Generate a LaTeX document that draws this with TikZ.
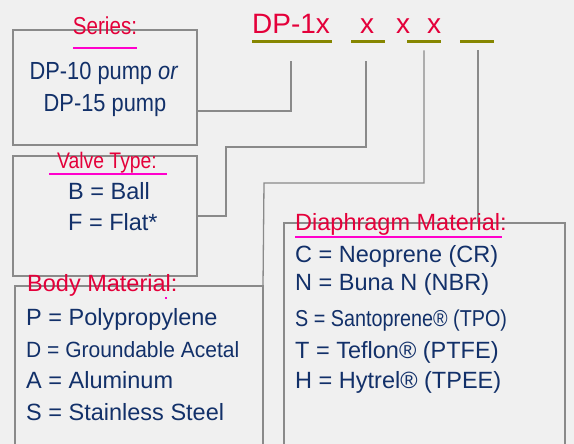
\documentclass[tikz,border=0pt]{standalone}
\usepackage{fontspec}
\setmainfont{Liberation Sans}
\definecolor{bg}{RGB}{240,240,240}
\definecolor{linegray}{RGB}{138,138,138}
\definecolor{navy}{RGB}{18,48,105}
\definecolor{hdred}{RGB}{228,0,58}
\definecolor{mag}{RGB}{255,0,204}
\definecolor{olive}{RGB}{134,134,0}
\begin{document}
\begin{tikzpicture}[x=1pt,y=-1pt,
  box/.style={draw=linegray, line width=1.3pt, rectangle, inner sep=0, outer sep=0},
  conn/.style={draw=linegray, line width=1.3pt},
  seg/.style={fill=olive, rectangle, inner sep=0, outer sep=0, minimum height=3.3pt},
  uline/.style={fill=mag, rectangle, inner sep=0, outer sep=0, minimum height=2.2pt},
  head/.style={text=hdred, inner sep=0, font=\fontsize{23.5}{28}\selectfont},
  code/.style={text=hdred, inner sep=0, font=\fontsize{28}{32}\selectfont},
  txt/.style={text=navy, inner sep=0, font=\fontsize{23.5}{28}\selectfont},
  small/.style={text=navy, inner sep=0, font=\fontsize{21}{26}\selectfont}
]
\fill[bg] (0,0) rectangle (574,444);
\useasboundingbox (0,0) rectangle (574,444);
\clip (0,0) rectangle (574,444);

% boxes
\node[box, minimum width=184pt, minimum height=115pt] (series) at (105,87.5) {};
\node[box, minimum width=184pt, minimum height=120pt] (valve) at (105,216) {};
\node[box, minimum width=248pt, minimum height=184pt] (body) at (139,378) {};
\node[box, minimum width=281pt, minimum height=247pt] (diaph) at (424.5,346.5) {};

% code underlines
\node[seg, minimum width=80pt] (s1) at (292,41.7) {};
\node[seg, minimum width=34pt] (s2) at (368,41.7) {};
\node[seg, minimum width=34pt] (s3) at (424,41.7) {};
\node[seg, minimum width=34pt] (s4) at (477,41.7) {};

% code text
\node[code, anchor=base west] (dp) at (252,34) {DP-1x};
\node[code, anchor=base] (x1) at (367,34) {x};
\node[code, anchor=base] (x2) at (403,34) {x};
\node[code, anchor=base] (x3) at (434,34) {x};

% connectors
\coordinate (b2) at (226,147);
\coordinate (b3) at (264,183);
\draw[conn] ([yshift=-18pt]s1.south -| 291,0) |- (series.east |- 0,111);
\draw[conn] ([yshift=-18pt]s2.south -| 366,0) |- (b2) |- (valve.east);
\draw[conn] ([yshift=-7pt]s3.south) |- (b3) -- (body.north east);
\draw[conn] ([yshift=-7pt]s4.south -| 478,0) -- (478,0 |- diaph.north);

% Series
\node[head, anchor=base, xscale=0.84, font=\fontsize{24.5}{28}\selectfont] (serh) at (105,35) {Series:};
\node[uline, minimum width=64pt] (seru) at (105,48.3) {};
\node[txt, anchor=base, xscale=0.97, yscale=1.1, font=\fontsize{22.5}{26}\selectfont] (ser1) at (104,80) {DP-10 pump \textit{or}};
\node[txt, anchor=base, xscale=0.97, yscale=1.1, font=\fontsize{22.5}{26}\selectfont] (ser2) at (105,112) {DP-15 pump};

% Valve
\node[head, anchor=base, xscale=0.86, font=\fontsize{22.5}{26}\selectfont] (valh) at (107,168) {Valve Type:};
\node[uline, minimum width=118pt] (valu) at (108,174) {};
\node[txt, anchor=base west] (val1) at (68,200) {B = Ball};
\node[txt, anchor=base west] (val2) at (68,230) {F = Flat*};

% Body
\node[head, anchor=base west] (bodh) at (27,291) {Body Material:};
\node[fill=mag, inner sep=0, minimum size=2.2pt] (dot) at (166,298) {};
\node[txt, anchor=base west] (bod1) at (26,325) {P = Polypropylene};
\node[small, anchor=base west, yscale=1.05] (bod2) at (26,357) {D = Groundable Acetal};
\node[txt, anchor=base west] (bod3) at (26,388) {A = Aluminum};
\node[txt, anchor=base west] (bod4) at (26,420) {S = Stainless Steel};

% Diaphragm
\node[head, anchor=base west] (diah) at (295,230) {Diaphragm Material:};
\node[uline, minimum width=207pt] (diau) at (398.5,237) {};
\node[txt, anchor=base west] (dia1) at (295,262) {C = Neoprene (CR)};
\node[txt, anchor=base west] (dia2) at (295,290) {N = Buna N (NBR)};
\node[txt, anchor=base west, xscale=0.86, font=\fontsize{23}{26}\selectfont] (dia3) at (295,326) {S = Santoprene® (TPO)};
\node[txt, anchor=base west] (dia4) at (295,358) {T = Teflon® (PTFE)};
\node[txt, anchor=base west] (dia5) at (295,388) {H = Hytrel® (TPEE)};
\end{tikzpicture}
\end{document}
